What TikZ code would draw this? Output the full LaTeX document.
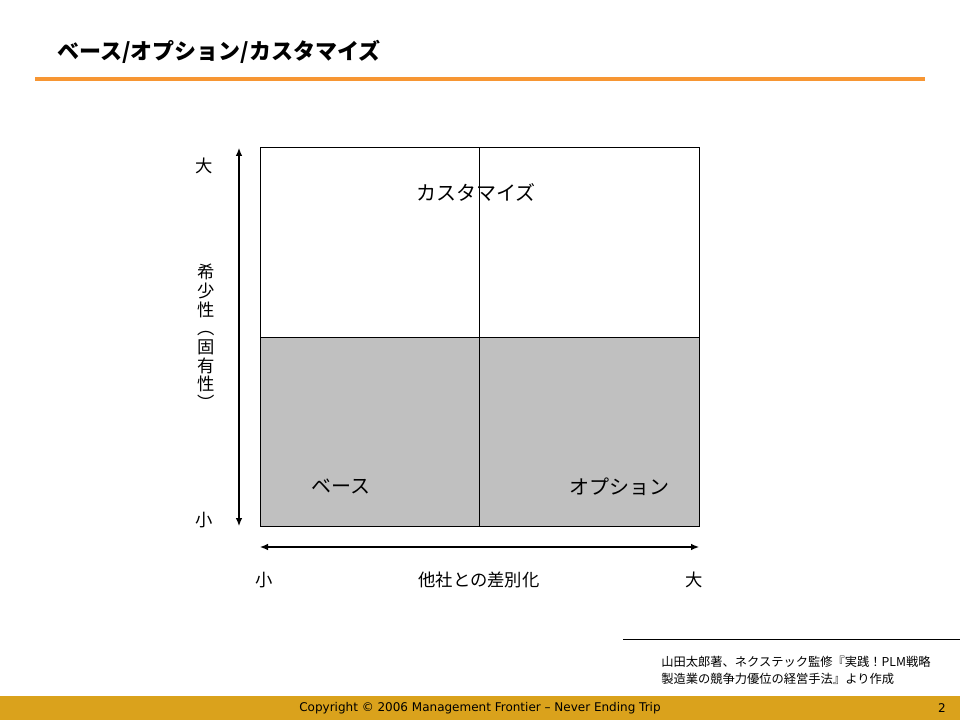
\documentclass[tikz,border=0pt]{standalone}
\usepackage{fontspec}
\setmainfont{Liberation Sans}
\newfontfamily\jp{Noto Sans CJK JP}
\newfontfamily\footfont{DejaVu Sans}
\usetikzlibrary{arrows.meta}
\definecolor{orangeline}{HTML}{F79633}
\definecolor{footbar}{HTML}{DAA21C}
\definecolor{quadgray}{HTML}{C0C0C0}
\tikzset{
  jptext/.style={font=\jp, inner sep=0pt, anchor=center},
  axisarrow/.style={line width=0.9pt, {Latex[length=6pt,width=5pt]}-{Latex[length=6pt,width=5pt]}},
  quadline/.style={line width=0.75pt, draw=black},
}
\begin{document}
\begin{tikzpicture}[x=0.75pt,y=-0.75pt]
\useasboundingbox (0,0) rectangle (960,720);
% title
\node[jptext, anchor=west, font=\jp\fontsize{16.5pt}{18pt}\selectfont\bfseries] (title) at (57,52) {ベース/オプション/カスタマイズ};
\coordinate (ol) at (35,79);
\coordinate (or) at (925,79);
\draw[orangeline, line width=2.4pt] (ol) -- (or);
% quadrants
\fill[quadgray] (260,337) rectangle (699,526);
\draw[quadline] (260,148) rectangle (699,526);
\coordinate (vt) at (479,148);
\coordinate (vb) at (479,526);
\coordinate (hl) at (260,337);
\coordinate (hr) at (699,337);
\draw[quadline] (vt) -- (vb);
\draw[quadline] (hl) -- (hr);
\node[jptext, font=\jp\fontsize{15pt}{18pt}\selectfont] (custom) at (476,192) {カスタマイズ};
\node[jptext, font=\jp\fontsize{15pt}{18pt}\selectfont] (base) at (341,486) {ベース};
\node[jptext, font=\jp\fontsize{15pt}{18pt}\selectfont] (option) at (619,487) {オプション};
% vertical axis
\coordinate (ya) at (239,148);
\coordinate (yb) at (239,526);
\draw[axisarrow] (ya) -- (yb);
\node[jptext, font=\jp\fontsize{13pt}{15pt}\selectfont] (ybig) at (204,166) {大};
\node[jptext, font=\jp\fontsize{13pt}{15pt}\selectfont] (ysmall) at (204,520) {小};
\node[jptext, font=\jp\fontsize{13pt}{14pt}\selectfont, align=center] (ylabel) at (206,337)
  {希\\少\\性\\︵\\固\\有\\性\\︶};
% horizontal axis
\coordinate (xa) at (260,547);
\coordinate (xb) at (699,547);
\draw[axisarrow] (xa) -- (xb);
\node[jptext, font=\jp\fontsize{13pt}{15pt}\selectfont] (xsmall) at (264,580) {小};
\node[jptext, font=\jp\fontsize{13pt}{15pt}\selectfont] (xbig) at (694,580) {大};
\node[jptext, font=\jp\fontsize{13pt}{15pt}\selectfont] (xlabel) at (479,580) {他社との差別化};
% source
\coordinate (sl) at (623,639);
\coordinate (sr) at (960,639);
\draw[line width=0.75pt] (sl) -- (sr);
\node[jptext, anchor=west, font=\jp\fontsize{9.2pt}{12.8pt}\selectfont, align=left] (source) at (661,670)
  {山田太郎著、ネクステック監修『実践！PLM戦略\\製造業の競争力優位の経営手法』より作成};
% footer
\fill[footbar] (0,696) rectangle (960,720);
\node[inner sep=0pt, font=\footfont\fontsize{9pt}{10pt}\selectfont] (copy) at (480,708) {Copyright © 2006 Management Frontier – Never Ending Trip};
\node[inner sep=0pt, font=\footfont\fontsize{9pt}{10pt}\selectfont] (page) at (942,708) {2};
\end{tikzpicture}
\end{document}
